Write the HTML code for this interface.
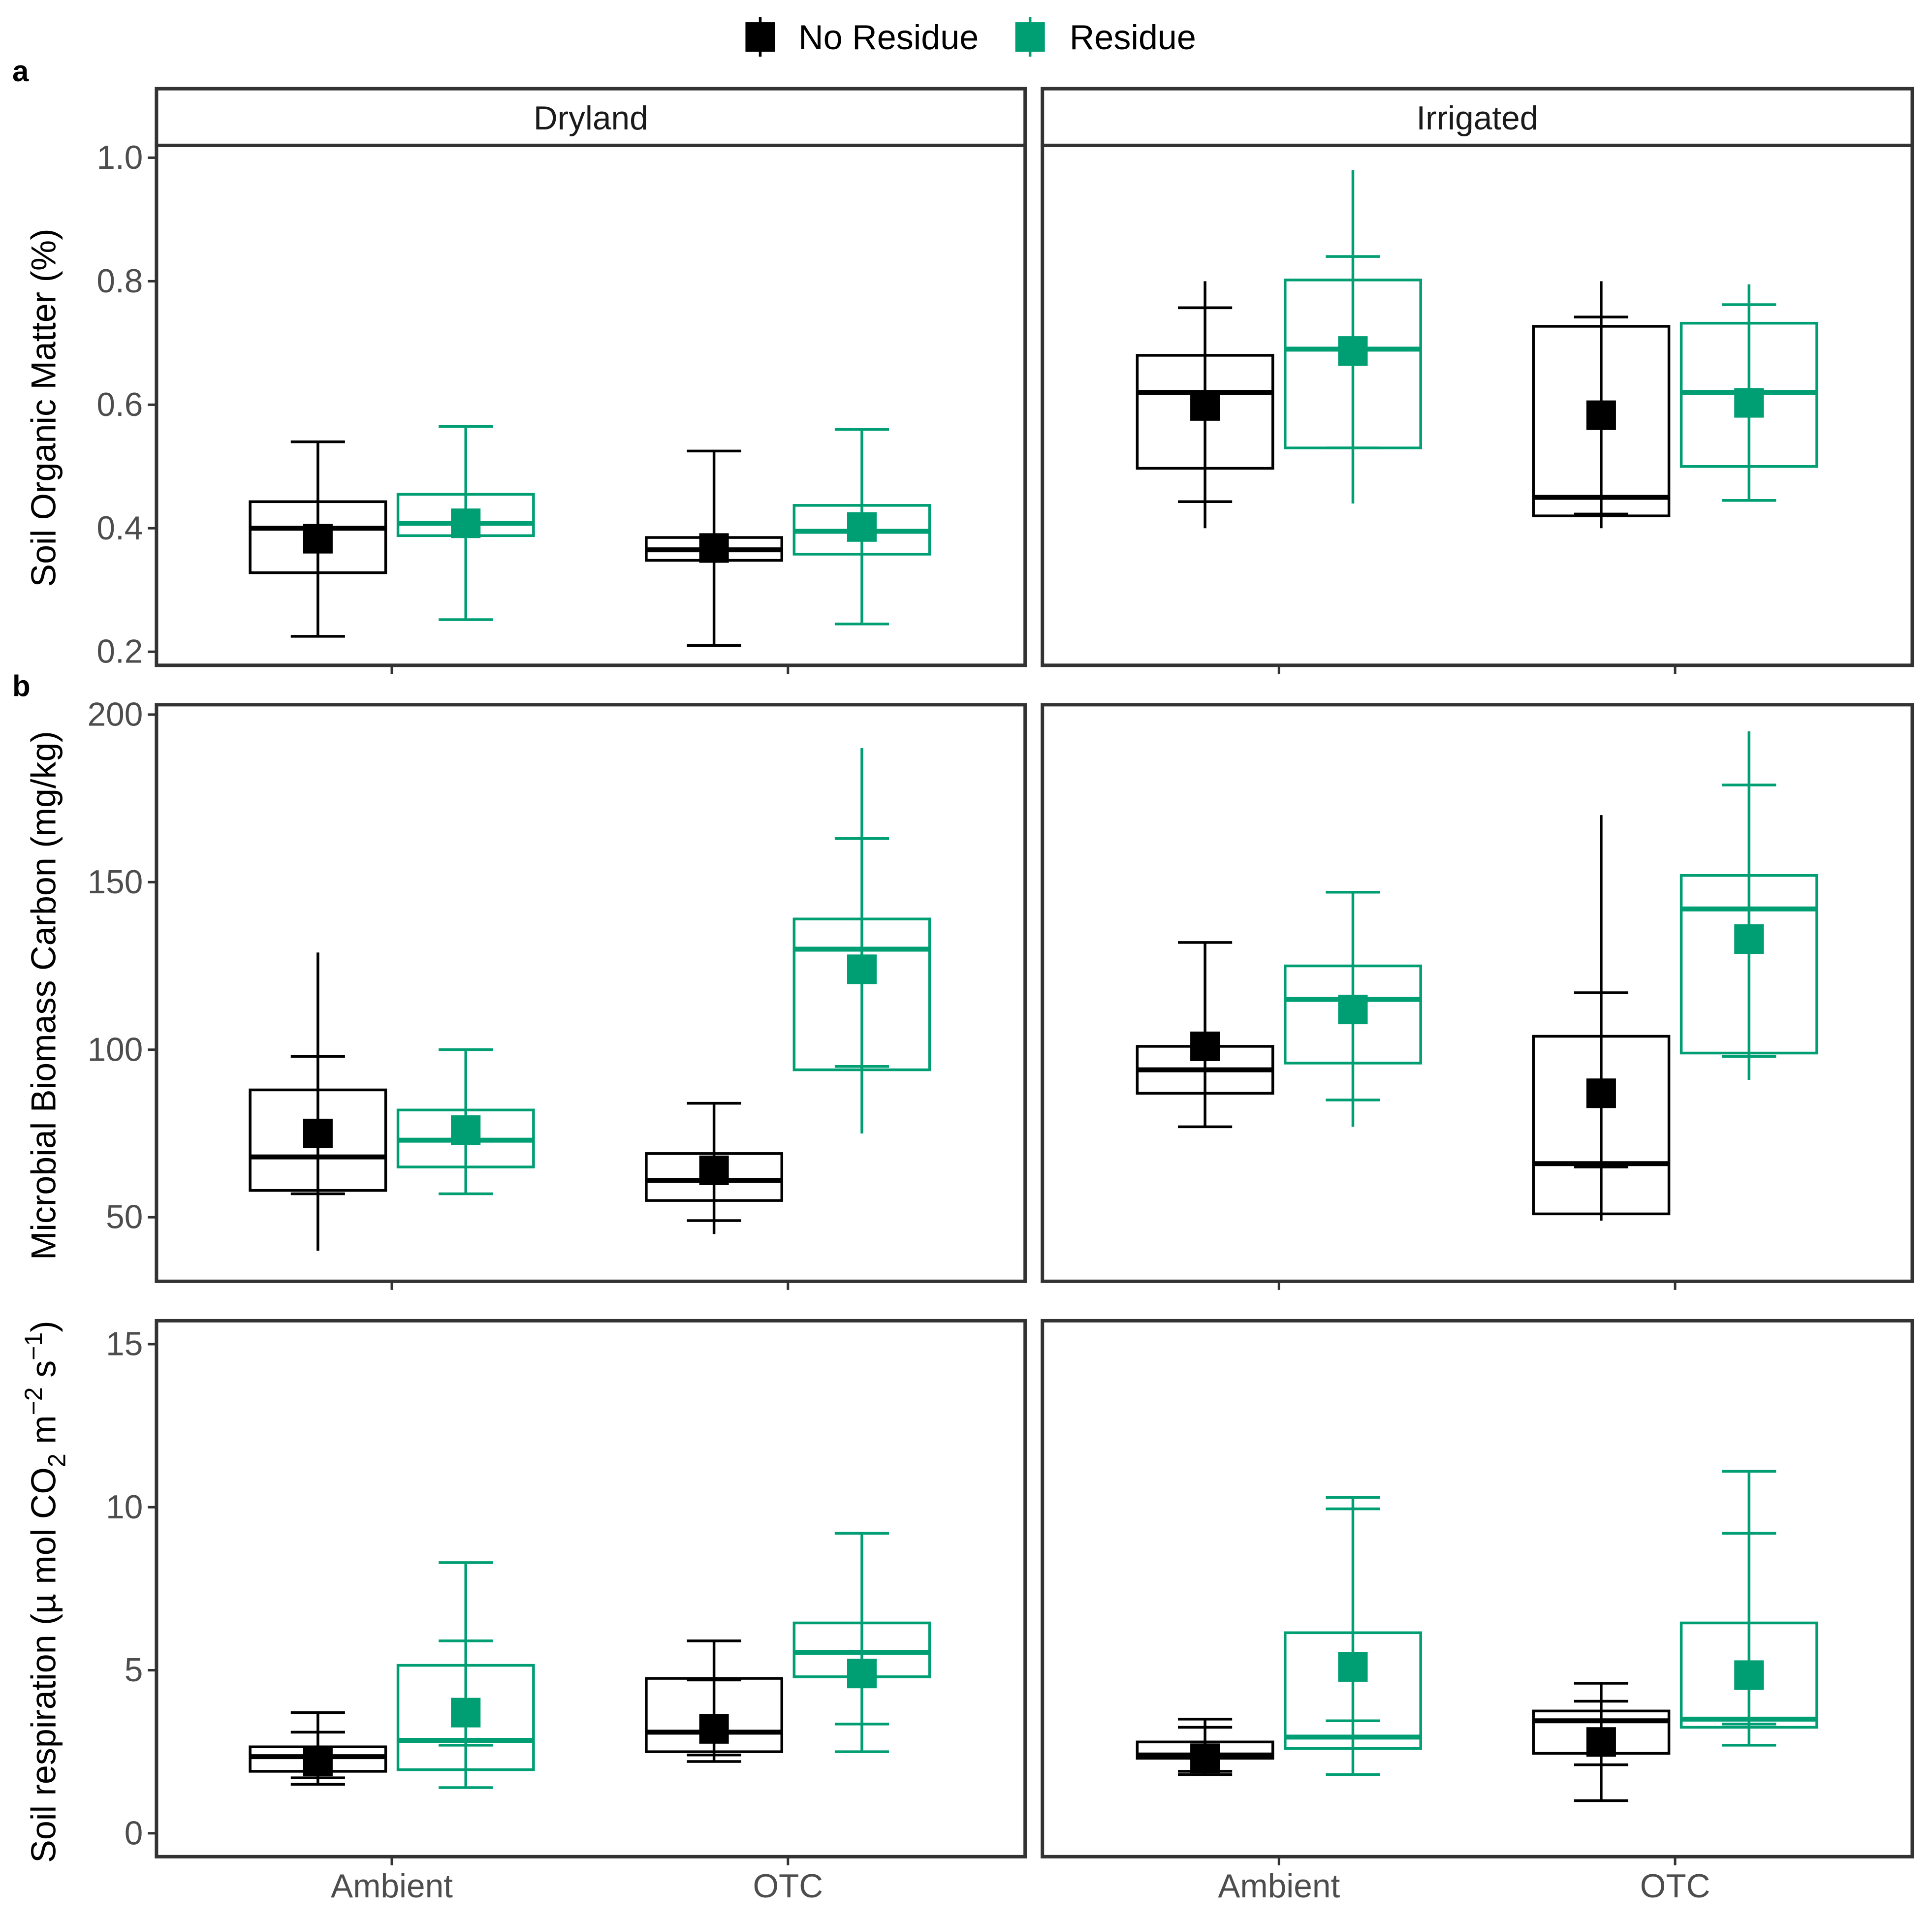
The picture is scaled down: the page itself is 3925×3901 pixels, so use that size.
<!DOCTYPE html>
<html><head><meta charset="utf-8"><style>
html,body{margin:0;padding:0;background:#fff;}
svg{display:block;}
text{font-family:"Liberation Sans",sans-serif;}
</style></head><body>
<svg id="chart" width="3925" height="3901" viewBox="0 0 1568 1558.4" preserveAspectRatio="none" xmlns="http://www.w3.org/2000/svg">
<g id="g"></g>
</svg>
<script>
// categories
const facets = ["Dryland","Irrigated"];
const treatments = ["Ambient","OTC"];
const groups = ["No Residue","Residue"];
const colors = ["#000000","#009E73"];
// Each value: [ymin, ymax, capLo, capHi, q1, median, q3, mean]; order: facet, treatment, group
const somValues = [
 [[[0.225,0.54,0.225,0.54,0.328,0.40,0.443,0.383],[0.252,0.565,0.252,0.565,0.388,0.408,0.455,0.408]],
  [[0.21,0.525,0.21,0.525,0.348,0.365,0.385,0.368],[0.245,0.56,0.245,0.56,0.358,0.395,0.437,0.402]]],
 [[[0.40,0.80,0.443,0.757,0.497,0.62,0.68,0.598],[0.44,0.98,0.53,0.84,0.53,0.69,0.802,0.687]],
  [[0.40,0.80,0.423,0.742,0.42,0.45,0.727,0.583],[0.445,0.795,0.445,0.762,0.50,0.62,0.732,0.603]]]
];
const mbcValues = [
 [[[40,129,57,98,58,68,88,75],[57,100,57,100,65,73,82,76]],
  [[45,84,49,84,55,61,69,64],[75,190,95,163,94,130,139,124]]],
 [[[77,132,77,132,87,94,101,101],[77,147,85,147,96,115,125,112]],
  [[49,170,65,117,51,66,104,87],[91,195,98,179,99,142,152,133]]]
];
const srValues = [
 [[[1.5,3.7,1.7,3.1,1.9,2.35,2.65,2.2],[1.4,8.3,2.7,5.9,1.95,2.85,5.15,3.7]],
  [[2.2,5.9,2.4,4.7,2.5,3.1,4.75,3.2],[2.5,9.2,3.35,9.2,4.8,5.55,6.45,4.9]]],
 [[[1.8,3.5,1.9,3.25,2.3,2.4,2.8,2.3],[1.8,10.3,3.45,9.95,2.6,2.95,6.15,5.1]],
  [[1.0,4.6,2.1,4.05,2.45,3.45,3.75,2.8],[2.7,11.1,3.35,9.2,3.25,3.5,6.45,4.85]]]
];
const somTicks = [0.2,0.4,0.6,0.8,1.0];
const mbcTicks = [50,100,150,200];
const srTicks = [0,5,10,15];

const NS="http://www.w3.org/2000/svg";
const G=document.getElementById('g');
function mk(tag,attrs,parent){const e=document.createElementNS(NS,tag);for(const k in attrs)e.setAttribute(k,attrs[k]);(parent||G).appendChild(e);return e;}

const panelX=[[127,832],[846,1552]];
const rows=[
 {top:118,bot:540,data:somValues,ticks:somTicks,v0:1.0,y0:128,v1:0.2,y1:529,fmt:v=>v.toFixed(1),name:"som",endCaps:false},
 {top:572,bot:1040,data:mbcValues,ticks:mbcTicks,v0:200,y0:580,v1:50,y1:988,fmt:v=>String(v),name:"mbc",endCaps:false},
 {top:1072,bot:1507,data:srValues,ticks:srTicks,v0:15,y0:1091,v1:0,y1:1488,fmt:v=>String(v),name:"sr",endCaps:true}
];
function xScale(f,t){return (f===0?318:1038)+t*321.5;}

rows.forEach((r,ri)=>{
 const ys=v=>r.y0+(v-r.v0)*(r.y1-r.y0)/(r.v1-r.v0);
 facets.forEach((fn,f)=>{
  const [x0,x1]=panelX[f];
  const pg=mk('g',{});
  
  
  treatments.forEach((tn,t)=>{
   groups.forEach((gn,gi)=>{
    const d=r.data[f][t][gi];
    const cx=xScale(f,t)+(gi===0?-60:60);
    const c=colors[gi];
    const bg=mk('g',{},pg);
    
    
    mk('rect',{x:cx-55,y:ys(d[6]),width:110,height:ys(d[4])-ys(d[6]),fill:'none',stroke:c,'stroke-width':2.2},bg);
    mk('line',{x1:cx-55,x2:cx+55,y1:ys(d[5]),y2:ys(d[5]),stroke:c,'stroke-width':4},bg);
    mk('line',{x1:cx,x2:cx,y1:ys(d[0]),y2:ys(d[1]),stroke:c,'stroke-width':2.2},bg);
    const caps=r.endCaps?[d[0],d[1],d[2],d[3]]:[d[2],d[3]];
    caps.forEach(v=>mk('line',{x1:cx-22,x2:cx+22,y1:ys(v),y2:ys(v),stroke:c,'stroke-width':2.2},bg));
    mk('rect',{x:cx-12,y:ys(d[7])-12,width:24,height:24,fill:c},bg);
   });
  });
  const fr=mk('rect',{x:x0,y:r.top,width:x1-x0,height:r.bot-r.top,fill:'none',stroke:'#333','stroke-width':2.8});
  
  
  treatments.forEach((tn,t)=>{
   mk('line',{x1:xScale(f,t),x2:xScale(f,t),y1:r.bot+1,y2:r.bot+7,stroke:'#333','stroke-width':2});
   if(ri===2){const tx=mk('text',{x:xScale(f,t),y:1540,'text-anchor':'middle','font-size':27,fill:'#4d4d4d'});tx.textContent=tn;
    }
  });
 });
 r.ticks.forEach(v=>{
  mk('line',{x1:120,x2:126,y1:ys(v),y2:ys(v),stroke:'#333','stroke-width':2});
  const tx=mk('text',{x:116,y:ys(v)+9,'text-anchor':'end','font-size':27,fill:'#4d4d4d'});tx.textContent=r.fmt(v);
  
 });
});
facets.forEach((fn,f)=>{
 const [x0,x1]=panelX[f];
 const s=mk('rect',{x:x0,y:72,width:x1-x0,height:46,fill:'#fff',stroke:'#333','stroke-width':2.8});
 
 const t=mk('text',{x:(x0+x1)/2,y:105,'text-anchor':'middle','font-size':27,fill:'#1a1a1a'});t.textContent=fn;
 
});
</script>
<svg style="position:absolute;left:0;top:0" width="3925" height="3901" viewBox="0 0 1568 1558.4" preserveAspectRatio="none" xmlns="http://www.w3.org/2000/svg">
<g>
 <g>
  <line x1="617" x2="617" y1="14" y2="46" stroke="#000" stroke-width="2.2"/>
  <rect x="605" y="18" width="24" height="24" fill="#000"/>
  <text x="648" y="40" font-size="28" fill="#000">No Residue</text>
 </g>
 <g>
  <line x1="836" x2="836" y1="14" y2="46" stroke="#009E73" stroke-width="2.2"/>
  <rect x="824" y="18" width="24" height="24" fill="#009E73"/>
  <text x="868" y="40" font-size="28" fill="#000">Residue</text>
 </g>
</g>
<text x="10" y="66" font-size="24" font-family="Liberation Serif" font-weight="bold">a</text>
<text x="10" y="565" font-size="24" font-family="Liberation Serif" font-weight="bold">b</text>
<text transform="translate(45,331) rotate(-90)" text-anchor="middle" font-size="28" fill="#000">Soil Organic Matter (%)</text>
<text transform="translate(45,808) rotate(-90)" text-anchor="middle" font-size="28" fill="#000">Microbial Biomass Carbon (mg/kg)</text>
<text transform="translate(45,1292) rotate(-90)" text-anchor="middle" font-size="28" fill="#000">Soil respiration (µ mol CO<tspan font-size="20" dy="8">2</tspan><tspan dy="-8"> m</tspan><tspan font-size="20" dy="-11">−2</tspan><tspan dy="11"> s</tspan><tspan font-size="20" dy="-11">−1</tspan><tspan dy="11">)</tspan></text>
</svg>
</body></html>
